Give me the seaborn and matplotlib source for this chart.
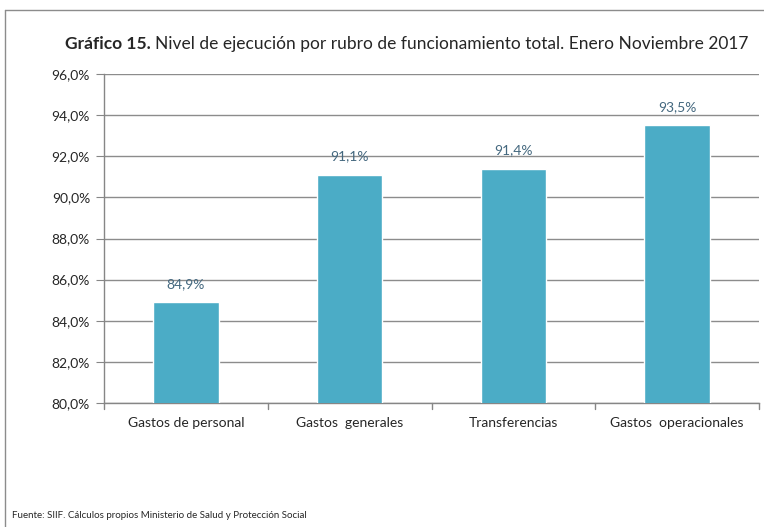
import numpy as np
import pandas as pd
import seaborn as sns
import matplotlib.pyplot as plt
from matplotlib.lines import Line2D

# datos
rubros = ['Gastos de personal', 'Gastos  generales', 'Transferencias', 'Gastos  operacionales']
ejecucion = [84.9, 91.1, 91.4, 93.5]
y_ticks = [80, 82, 84, 86, 88, 90, 92, 94, 96]

sns.set_style('white')
plt.rcParams['font.family'] = ['Lato', 'DejaVu Sans']

df = pd.DataFrame({'rubro': rubros, 'ejecucion': ejecucion})

fig = plt.figure(figsize=(7.64, 5.27), dpi=100)
ax = fig.add_axes([104 / 764, 1 - 403 / 527, (759 - 104) / 764, (403 - 74) / 527])

sns.barplot(data=df, x='rubro', y='ejecucion', color='#4BACC6', width=0.4,
            saturation=1, ax=ax, zorder=3)

ax.set_ylim(80, 96)
ax.set_yticks(y_ticks)
ax.set_yticklabels([f'{t:.1f}%'.replace('.', ',') for t in y_ticks], fontsize=10)
ax.set_xlim(-0.5, len(rubros) - 0.5)
ax.set_xlabel('')
ax.set_ylabel('')
ax.tick_params(axis='x', length=0, pad=10, labelsize=10)
ax.tick_params(axis='y', length=6, color='#868686', pad=4, left=True)
ax.grid(axis='y', color='#8C8C8C', linewidth=1, zorder=0)

for side in ['top', 'right']:
    ax.spines[side].set_visible(False)
for side in ['left', 'bottom']:
    ax.spines[side].set_color('#868686')
    ax.spines[side].set_linewidth(1)

# separadores de categoria en el eje x
for b in np.arange(-0.5, len(rubros), 1):
    ax.plot([b, b], [0, -0.018], transform=ax.get_xaxis_transform(),
            color='#868686', lw=1, clip_on=False)

for i, v in enumerate(ejecucion):
    ax.text(i, v + 0.6, f'{v:.1f}%'.replace('.', ','), ha='center', va='bottom',
            fontsize=10, color='#44687F')

# titulo en dos partes
t1 = fig.text(65 / 764, 1 - 44 / 527, 'Gráfico 15.', fontsize=12.5, fontweight='bold',
              va='center', ha='left')
fig.canvas.draw()
bb = t1.get_window_extent()
fig.text((bb.x1 + 4) / 764, 1 - 44 / 527,
         'Nivel de ejecución por rubro de funcionamiento total. Enero Noviembre 2017',
         fontsize=12.5, va='center', ha='left')

fig.text(12 / 764, 1 - 516 / 527,
         'Fuente: SIIF. Cálculos propios Ministerio de Salud y Protección Social',
         fontsize=7, va='center', ha='left')

# marco exterior
fig.add_artist(Line2D([5 / 764, 5 / 764], [0, 1 - 10 / 527], color='#8C8C8C', lw=1))
fig.add_artist(Line2D([5 / 764, 1], [1 - 10 / 527, 1 - 10 / 527], color='#8C8C8C', lw=1))

fig.savefig('out.png', dpi=100)
